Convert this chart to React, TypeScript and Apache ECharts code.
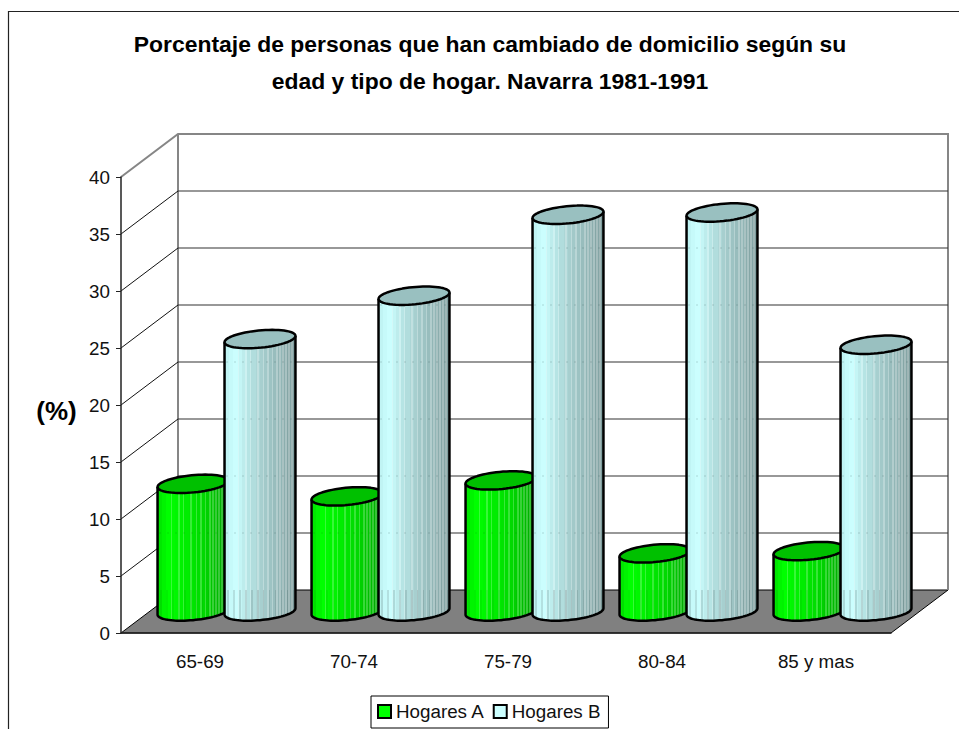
import React, { useEffect, useRef } from "react";
import * as echarts from "echarts";

const categories = ["65-69", "70-74", "75-79", "80-84", "85 y mas"];
const hogaresA = [11.2, 10.1, 11.5, 5.1, 5.3];
const hogaresB = [23.9, 27.7, 34.8, 35.0, 23.4];
const valueTicks = [0, 5, 10, 15, 20, 25, 30, 35, 40];

const FONT = "'Liberation Sans', Arial, sans-serif";

// Oblique projection of the chart box: how far the back wall sits from the front plane.
const DEPTH_X = 57;
const DEPTH_Y = 43;

// Cylinder cross-section: horizontal radius plus the shear along the depth direction.
const RADIUS_X = 33.3;
const SHEAR_X = 12.2;
const RADIUS_Y = 9.2;
const BAR_STEP = 0.435;

type Stop = [number, string];

const rampA: Stop[] = [
  [0, "#00e800"],
  [0.12, "#00ff00"],
  [0.35, "#00f000"],
  [0.65, "#00d800"],
  [1, "#00a000"],
];
const rampB: Stop[] = [
  [0, "#c0f4f4"],
  [0.12, "#ccffff"],
  [0.3, "#b8e6e6"],
  [0.5, "#a8d0d0"],
  [0.75, "#94b8b8"],
  [1, "#7a9898"],
];

// Band indexes that carry a pale facet line on the cylinder wall.
const paleBands = [9, 14, 17, 22, 26, 29, 32, 35, 37, 39, 41, 43, 45];
const BAND_COUNT = 48;
const FACET_WIDTH = 3;

function hexToRgb(hex: string) {
  return [1, 3, 5].map((i) => parseInt(hex.slice(i, i + 2), 16));
}

function rampColor(ramp: Stop[], f: number, lift: number) {
  let i = 0;
  while (i < ramp.length - 2 && f > ramp[i + 1][0]) i++;
  const [f0, c0] = ramp[i];
  const [f1, c1] = ramp[i + 1];
  const u = Math.min(1, Math.max(0, (f - f0) / (f1 - f0)));
  const a = hexToRgb(c0);
  const b = hexToRgb(c1);
  const rgb = a.map((v, k) => {
    const base = v + (b[k] - v) * u;
    return Math.round(base + (255 - base) * lift);
  });
  return `rgb(${rgb[0]},${rgb[1]},${rgb[2]})`;
}

function facetGradient(ramp: Stop[], lift: number) {
  const stops: { offset: number; color: string }[] = [];
  for (let i = 0; i < BAND_COUNT; i++) {
    const facet = Math.floor(i / FACET_WIDTH) * FACET_WIDTH;
    const color = rampColor(ramp, facet / (BAND_COUNT - 1), paleBands.includes(i) ? lift : 0);
    stops.push({ offset: i / BAND_COUNT, color });
    stops.push({ offset: (i + 1) / BAND_COUNT, color });
  }
  return new echarts.graphic.LinearGradient(0, 0, 1, 0, stops);
}

// Thin facet lines seen on the part of a cylinder in front of the floor.
function floorGradient(lineColor: string) {
  const stops: { offset: number; color: string }[] = [];
  for (let i = 0; i < BAND_COUNT; i++) {
    const color = i % 4 === 2 ? lineColor : "rgba(0,0,0,0)";
    stops.push({ offset: i / BAND_COUNT, color });
    stops.push({ offset: (i + 1) / BAND_COUNT, color });
  }
  return new echarts.graphic.LinearGradient(0, 0, 1, 0, stops);
}

function ringPoint(cx: number, cy: number, t: number) {
  return [cx + RADIUS_X * Math.cos(t) + SHEAR_X * Math.sin(t), cy - RADIUS_Y * Math.sin(t)];
}

function ringPoints(cx: number, cy: number, from: number, to: number, n: number) {
  const pts: number[][] = [];
  for (let i = 0; i <= n; i++) pts.push(ringPoint(cx, cy, from + ((to - from) * i) / n));
  return pts;
}

function cylinderRenderer(
  side: -1 | 1,
  ramp: Stop[],
  lift: number,
  lidColor: string,
  floorLine: string,
  dotColor: string,
) {
  const wall = facetGradient(ramp, lift);
  const floorFacets = floorGradient(floorLine);
  const outline = { stroke: "#000", lineWidth: 2.5, lineJoin: "round" };
  return (_params: any, api: any) => {
    const cat = api.value(0);
    const [px, py] = api.coord([cat, api.value(1)]);
    const y0 = api.coord([cat, 0])[1];
    const unit = api.size([1, 0])[0];
    const cx = px + DEPTH_X / 2 + (side * unit * BAR_STEP) / 2;
    const topY = py - DEPTH_Y / 2;
    const baseY = y0 - DEPTH_Y / 2;
    const floorBackY = y0 - DEPTH_Y;
    const t0 = Math.atan2(SHEAR_X, RADIUS_X);
    const left = ringPoint(cx, topY, t0 + Math.PI);
    const right = ringPoint(cx, topY, t0);
    const front = ringPoints(cx, baseY, t0 + Math.PI, t0 + 2 * Math.PI, 40);
    const children: any[] = [
      {
        type: "polygon",
        shape: { points: [left, ...front, right] },
        style: { fill: wall, stroke: "none" },
      },
      {
        type: "polygon",
        shape: { points: [[left[0], floorBackY], ...front, [right[0], floorBackY]] },
        style: { fill: floorFacets, stroke: "none" },
      },
    ];
    // Wall gridlines faintly dotted through the cylinder.
    for (const tick of valueTicks) {
      const y = api.coord([cat, tick])[1] - DEPTH_Y;
      if (y > topY + RADIUS_Y && y < floorBackY - 1) {
        children.push({
          type: "line",
          shape: { x1: left[0] + 2, y1: y, x2: right[0] - 2, y2: y },
          style: { stroke: dotColor, lineWidth: 1, lineDash: [1, 7] },
        });
      }
    }
    children.push({
      type: "polyline",
      shape: { points: [left, ...front, right] },
      style: { fill: "none", ...outline },
    });
    children.push({
      type: "polygon",
      shape: { points: ringPoints(cx, topY, 0, Math.PI * 2, 64) },
      style: { fill: lidColor, ...outline },
    });
    return { type: "group", children };
  };
}

// Floor, back wall and the gridlines folded across the side wall.
function renderBox(params: any, api: any) {
  const tick = api.value(1);
  const unit = api.size([1, 0])[0];
  const x0 = api.coord([0, 0])[0] - unit / 2;
  const x1 = api.coord([categories.length - 1, 0])[0] + unit / 2;
  const y0 = api.coord([0, 0])[1];
  const yTop = api.coord([0, valueTicks[valueTicks.length - 1]])[1];
  const y = api.coord([0, tick])[1];
  const wallGrey = "#868686";
  const children: any[] = [];
  if (tick === 0) {
    children.push(
      {
        type: "polygon",
        shape: {
          points: [
            [x0, y0],
            [x1, y0],
            [x1 + DEPTH_X, y0 - DEPTH_Y],
            [x0 + DEPTH_X, y0 - DEPTH_Y],
          ],
        },
        style: { fill: "#808080", stroke: "#000", lineWidth: 1 },
      },
      {
        type: "polyline",
        shape: {
          points: [
            [x0, yTop],
            [x0 + DEPTH_X, yTop - DEPTH_Y],
            [x1 + DEPTH_X, yTop - DEPTH_Y],
            [x1 + DEPTH_X, y0 - DEPTH_Y],
          ],
        },
        style: { fill: "none", stroke: wallGrey, lineWidth: 2 },
      },
      {
        type: "line",
        shape: { x1: x0 + DEPTH_X, y1: yTop - DEPTH_Y, x2: x0 + DEPTH_X, y2: y0 - DEPTH_Y },
        style: { stroke: wallGrey, lineWidth: 2 },
      },
    );
  } else if (tick < valueTicks[valueTicks.length - 1]) {
    children.push(
      {
        type: "line",
        shape: { x1: x0, y1: y, x2: x0 + DEPTH_X, y2: y - DEPTH_Y },
        style: { stroke: "#111", lineWidth: 1 },
      },
      {
        type: "line",
        shape: { x1: x0 + DEPTH_X, y1: y - DEPTH_Y, x2: x1 + DEPTH_X, y2: y - DEPTH_Y },
        style: { stroke: "#333", lineWidth: 1.2 },
      },
    );
  }
  return { type: "group", children };
}

export default function App() {
  const ref = useRef<HTMLDivElement>(null);

  useEffect(() => {
    const chart = echarts.init(ref.current!, undefined, { renderer: "svg" });
    chart.setOption({
      animation: false,
      backgroundColor: "#fff",
      title: {
        text: "Porcentaje de personas que han cambiado de domicilio según su\nedad y tipo de hogar. Navarra 1981-1991",
        left: 485,
        top: 20,
        textAlign: "center",
        textStyle: { fontFamily: FONT, fontSize: 22.9, fontWeight: "bold", color: "#000", lineHeight: 37 },
      },
      grid: { left: 121, top: 177, width: 770, height: 456 },
      xAxis: {
        type: "category",
        data: categories,
        z: 5,
        axisLine: { lineStyle: { color: "#222", width: 1.5 } },
        axisTick: { length: 8, lineStyle: { color: "#222", width: 1 } },
        axisLabel: { fontFamily: FONT, fontSize: 18.8, color: "#111", margin: 19, padding: [0, 0, 0, 4] },
      },
      yAxis: {
        type: "value",
        min: 0,
        max: 40,
        interval: 5,
        z: 5,
        axisLine: { show: true, lineStyle: { color: "#222", width: 1.5 } },
        axisTick: { show: true, length: 5, lineStyle: { color: "#222", width: 1 } },
        axisLabel: { fontFamily: FONT, fontSize: 18.8, color: "#111", margin: 11, padding: [5, 0, 0, 0] },
        splitLine: { show: false },
      },
      legend: {
        data: ["Hogares A", "Hogares B"],
        left: 371,
        top: 696,
        padding: [6, 8, 7, 6],
        itemWidth: 13,
        itemHeight: 13,
        itemGap: 8,
        icon: "rect",
        backgroundColor: "#fff",
        borderColor: "#000",
        borderWidth: 1,
        itemStyle: { borderColor: "#000", borderWidth: 2 },
        textStyle: { fontFamily: FONT, fontSize: 18.8, color: "#111" },
        selectedMode: false,
      },
      graphic: [
        {
          type: "polyline",
          shape: {
            points: [
              [8.5, 729],
              [8.5, 11.5],
              [959, 11.5],
            ],
          },
          style: { fill: "none", stroke: "#222", lineWidth: 1.2 },
          silent: true,
        },
        {
          type: "text",
          x: 56.5,
          y: 411,
          style: {
            text: "(%)",
            fontFamily: FONT,
            fontSize: 26,
            fontWeight: "bold",
            fill: "#000",
            textAlign: "center",
            textVerticalAlign: "middle",
          },
        },
      ],
      series: [
        {
          type: "custom",
          name: "Caja",
          z: 1,
          silent: true,
          renderItem: renderBox,
          data: valueTicks.map((t) => [0, t]),
        },
        {
          type: "custom",
          name: "Hogares A",
          z: 2,
          itemStyle: { color: "#00ff00" },
          renderItem: cylinderRenderer(-1, rampA, 0.22, "#00c000", "rgba(0,90,0,0.08)", "rgba(0,80,0,0.3)"),
          data: hogaresA.map((v, i) => [i, v]),
        },
        {
          type: "custom",
          name: "Hogares B",
          z: 3,
          itemStyle: { color: "#ccffff" },
          renderItem: cylinderRenderer(1, rampB, 0.25, "#99c0c0", "rgba(70,90,90,0.18)", "rgba(40,70,70,0.4)"),
          data: hogaresB.map((v, i) => [i, v]),
        },
      ],
    });
    return () => chart.dispose();
  }, []);

  return (
    <div
      ref={ref}
      style={{ position: "absolute", left: 0, top: 0, width: 959, height: 729, overflow: "hidden" }}
    />
  );
}
